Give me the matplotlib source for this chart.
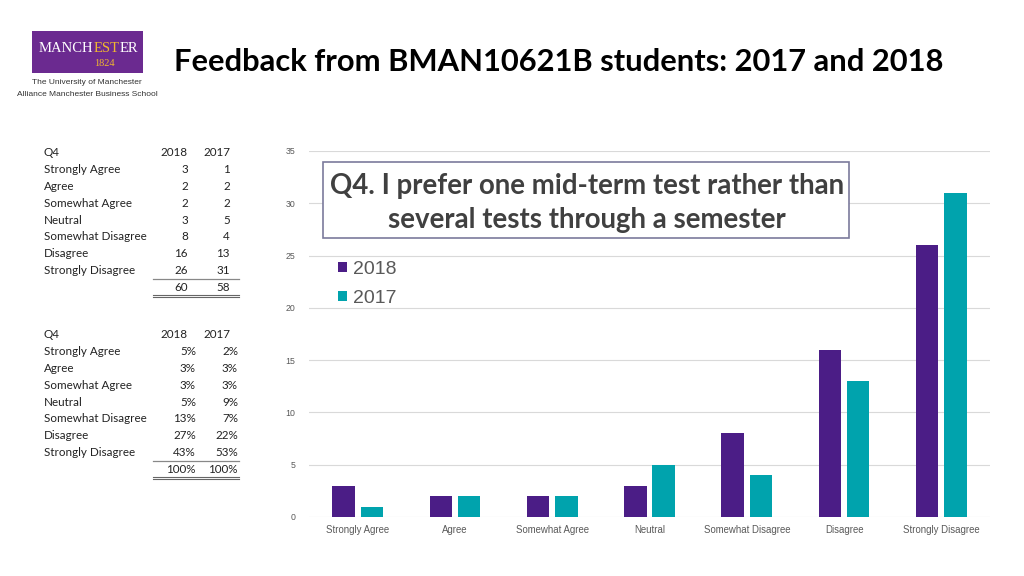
import numpy as np
import matplotlib.pyplot as plt
from matplotlib.patches import Rectangle
from matplotlib.lines import Line2D

categories = ['Strongly Agree', 'Agree', 'Somewhat Agree', 'Neutral',
              'Somewhat Disagree', 'Disagree', 'Strongly Disagree']
counts_2018 = [3, 2, 2, 3, 8, 16, 26]
counts_2017 = [1, 2, 2, 5, 4, 13, 31]
pct_2018 = ['5%', '3%', '3%', '5%', '13%', '27%', '43%']
pct_2017 = ['2%', '3%', '3%', '9%', '7%', '22%', '53%']
total_counts = ['60', '58']
total_pct = ['100%', '100%']
years = ['2018', '2017']

PURPLE = '#4b1d86'
TEAL = '#00a3ad'
GREY = '#595959'

W, H = 1024, 576
fig = plt.figure(figsize=(W / 100, H / 100), dpi=100)
renderer = fig.canvas.get_renderer()


def fx(px):
    return px / W


def fy(py):
    return 1 - py / H


# ---- header: logo + title
fig.patches.append(Rectangle((fx(32), fy(73)), fx(111), 42 / H, transform=fig.transFigure,
                             facecolor='#6b2a90', edgecolor='none'))
# MANCHESTER word, the "EST" in gold; pieces chained by measured width
x_pos = 39
for piece, col in [('MANCH', 'white'), ('EST', '#f0b72f'), ('ER', 'white')]:
    t = fig.text(fx(x_pos), fy(49), piece, ha='left', va='center',
                 family='Liberation Serif', fontsize=10.5, color=col)
    x_pos += t.get_window_extent(renderer).width
fig.text(fx(104), fy(64), '1824', ha='center', va='center',
         family='Liberation Serif', fontsize=7.5, color='#f0b72f')
fig.text(fx(87), fy(83), 'The University of Manchester', ha='center', va='center',
         family='Liberation Sans', fontsize=6.0, color='#333333')
fig.text(fx(87), fy(95), 'Alliance Manchester Business School', ha='center', va='center',
         family='Liberation Sans', fontsize=6.0, color='#333333')

fig.text(fx(559), fy(62), 'Feedback from BMAN10621B students: 2017 and 2018',
         ha='center', va='center', family='Lato', fontweight='bold', fontsize=22.2, color='black')

# ---- tables on the left
row_h = 16.8
tab_font = dict(family='Lato', fontsize=8.4, color='#222222')


def draw_table(top, col_a, col_b, totals, right_a, right_b):
    fig.text(fx(44), fy(top), 'Q4', va='center', **tab_font)
    fig.text(fx(188), fy(top), years[0], ha='right', va='center', **tab_font)
    fig.text(fx(230), fy(top), years[1], ha='right', va='center', **tab_font)
    for i, cat in enumerate(categories):
        y = top + (i + 1) * row_h
        fig.text(fx(44), fy(y), cat, va='center', **tab_font)
        fig.text(fx(right_a), fy(y), str(col_a[i]), ha='right', va='center', **tab_font)
        fig.text(fx(right_b), fy(y), str(col_b[i]), ha='right', va='center', **tab_font)
    y_tot = top + 8 * row_h
    fig.text(fx(right_a), fy(y_tot), totals[0], ha='right', va='center', **tab_font)
    fig.text(fx(right_b), fy(y_tot), totals[1], ha='right', va='center', **tab_font)
    y1 = y_tot - 8.5
    fig.add_artist(Line2D([fx(153), fx(239)], [fy(y1), fy(y1)], color='#888888', lw=0.9))
    for yy in (y_tot + 7.5, y_tot + 9.5):
        fig.add_artist(Line2D([fx(153), fx(239)], [fy(yy), fy(yy)], color='#666666', lw=0.8))


draw_table(153, counts_2018, counts_2017, total_counts, 188, 230)
draw_table(335, pct_2018, pct_2017, total_pct, 196, 238)

# ---- bar chart
ax_l, ax_r, ax_t, ax_b = 309, 990, 151, 517
ax = fig.add_axes([fx(ax_l), fy(ax_b), fx(ax_r - ax_l), (ax_b - ax_t) / H])
x = np.arange(len(categories))
bw = 0.23
ax.bar(x - 0.145, counts_2018, bw, color=PURPLE, label='2018', zorder=3)
ax.bar(x + 0.145, counts_2017, bw, color=TEAL, label='2017', zorder=3)
ax.set_xlim(-0.5, len(categories) - 0.5)
ax.set_ylim(0, 35)
ax.set_yticks(range(0, 36, 5))
ax.set_xticks(x)
ax.set_xticklabels(categories)
ax.grid(axis='y', color='#d9d9d9', lw=0.8, zorder=0)
for s in ax.spines.values():
    s.set_visible(False)
ax.tick_params(length=0, colors=GREY)
ax.tick_params(axis='y', labelsize=6.3, pad=10)
ax.tick_params(axis='x', labelsize=6.9, pad=6)
for lab in ax.get_xticklabels() + ax.get_yticklabels():
    lab.set_family('Liberation Sans')

leg = ax.legend(loc='upper left',
                bbox_to_anchor=((338 - ax_l) / (ax_r - ax_l), (ax_b - 261) / (ax_b - ax_t)),
                frameon=False, borderpad=0, borderaxespad=0,
                handlelength=0.45, handleheight=0.45, handletextpad=0.3, labelspacing=0.62,
                prop={'family': 'Liberation Sans', 'size': 14})
for t in leg.get_texts():
    t.set_color(GREY)

# chart title box
fig.patches.append(Rectangle((fx(323), fy(238)), fx(849 - 323), (238 - 162) / H,
                             transform=fig.transFigure, facecolor='white',
                             edgecolor='#7b7a9c', lw=1.2, zorder=5))
fig.text(fx(587), fy(186), 'Q4. I prefer one mid-term test rather than', ha='center', va='center',
         family='Lato', fontweight='bold', fontsize=19.9, color='#404040', zorder=6)
fig.text(fx(587), fy(220), 'several tests through a semester', ha='center', va='center',
         family='Lato', fontweight='bold', fontsize=19.9, color='#404040', zorder=6)

fig.savefig('out.png', dpi=100)
